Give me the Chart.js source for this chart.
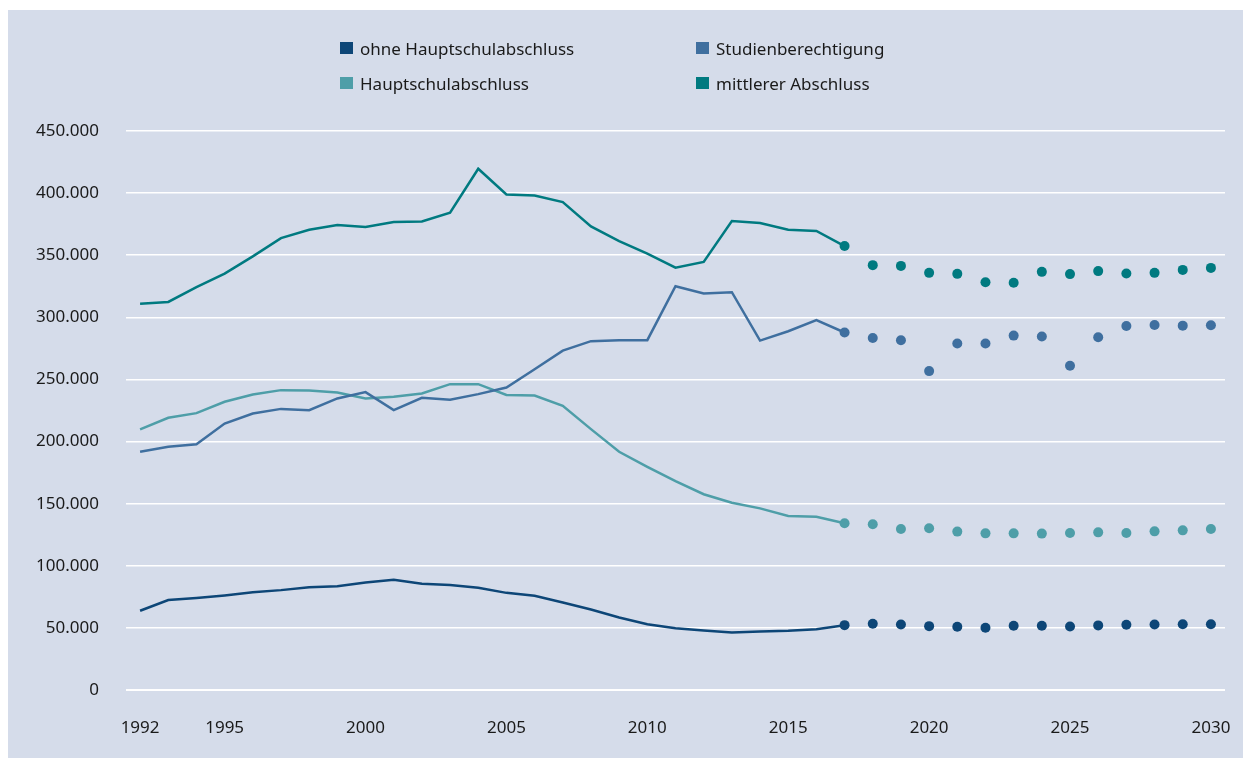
<!DOCTYPE html>
<html>
<head>
<meta charset="utf-8">
<script src="https://cdn.jsdelivr.net/npm/chart.js@4"></script>
<style>
  html, body { margin: 0; padding: 0; background: #ffffff; }
  body { width: 1243px; height: 758px; position: relative; overflow: hidden; font-family: "Noto Sans", sans-serif; }
  #panel { position: absolute; left: 8px; top: 10px; right: 0; bottom: 0; background: #d5dcea; }
  #wrap { position: absolute; left: 0; top: 0; width: 1243px; height: 758px; }
  #legend { position: absolute; left: 340px; top: 37px; display: grid; grid-template-columns: 356px 200px; row-gap: 13px; }
  .item { display: flex; align-items: center; height: 22px; font-size: 17px; color: #1a1a1a; }
  .box { width: 13px; height: 12px; margin-right: 7px; }
</style>
</head>
<body>
<div id="panel"></div>
<div id="wrap"><canvas id="chart" width="1243" height="758"></canvas></div>
<div id="legend"></div>
<script>
// Years 1992..2030; observed data up to 2017, projection afterwards (dots)
const years = [];
for (let y = 1992; y <= 2030; y++) years.push(y);
const lastObservedIndex = 25; // 2017

const xTicks = [1992, 1995, 2000, 2005, 2010, 2015, 2020, 2025, 2030];

const ohneHauptschul = [
  63800, 72400, 74000, 76100, 78600, 80400, 82800, 83600, 86600, 88700,
  85500, 84500, 82300, 78200, 75800, 70400, 64800, 58400, 53000, 49800,
  47900, 46300, 47100, 47700, 49000, 52200,
  53300, 52800, 51400, 50900, 50100, 51700, 51700, 51100, 52000, 52500, 52800, 53000, 53000
];
const hauptschul = [
  209800, 219100, 222900, 232000, 237900, 241400, 241100, 239500, 234700, 236000,
  238700, 246200, 246200, 237500, 237100, 228800, 210000, 191800, 179700, 168200,
  157600, 150800, 146200, 140100, 139500, 134200,
  133400, 129600, 130200, 127500, 126100, 126100, 125900, 126400, 126900, 126400, 127700, 128500, 129600
];
const studien = [
  191800, 195800, 197900, 214500, 222600, 226300, 225300, 234700, 239800, 225300,
  235200, 233600, 238200, 243500, 258200, 273200, 280800, 281600, 281600, 325000,
  319200, 320200, 281300, 288800, 297700, 287800,
  283400, 281500, 256700, 278900, 278900, 285300, 284500, 261000, 284000, 293000, 293800, 293300, 293600
];
const mittlerer = [
  311000, 312400, 324400, 335200, 349100, 363800, 370500, 374300, 372700, 376700,
  377200, 384200, 419600, 398900, 398100, 392800, 373200, 361400, 351300, 340000,
  344600, 377500, 375900, 370500, 369500, 357400,
  342000, 341400, 335800, 335000, 328300, 327800, 336600, 334800, 337200, 335300, 335800, 338200, 339800
];

const series = [
  { label: 'ohne Hauptschulabschluss', values: ohneHauptschul, color: '#0d4677' },
  { label: 'Studienberechtigung', values: studien, color: '#3f6f9f' },
  { label: 'Hauptschulabschluss', values: hauptschul, color: '#4e9ea8' },
  { label: 'mittlerer Abschluss', values: mittlerer, color: '#007a80' }
];

// HTML legend in two columns, like the original
const legendEl = document.getElementById('legend');
for (const s of series) {
  const item = document.createElement('div');
  item.className = 'item';
  item.innerHTML = '<span class="box" style="background:' + s.color + '"></span><span>' + s.label + '</span>';
  legendEl.appendChild(item);
}

const FONT = { family: '"Noto Sans", sans-serif', size: 17 };

new Chart(document.getElementById('chart'), {
  type: 'line',
  data: {
    datasets: series.map(s => ({
      label: s.label,
      data: years.map((y, i) => ({ x: y, y: s.values[i] })),
      borderColor: s.color,
      backgroundColor: s.color,
      borderWidth: 2.5,
      fill: false,
      tension: 0,
      pointRadius: (ctx) => ctx.dataIndex >= lastObservedIndex ? 5 : 0,
      pointHoverRadius: (ctx) => ctx.dataIndex >= lastObservedIndex ? 5 : 0,
      pointBorderWidth: 0,
      segment: {
        borderColor: (ctx) => ctx.p0DataIndex >= lastObservedIndex ? 'rgba(0,0,0,0)' : s.color
      }
    }))
  },
  options: {
    responsive: false,
    animation: false,
    layout: { padding: { left: 0, right: 18, top: 131, bottom: 18 } },
    plugins: {
      legend: { display: false },
      tooltip: { enabled: false }
    },
    scales: {
      x: {
        type: 'linear',
        min: 1991.5,
        max: 2030.5,
        afterBuildTicks: (axis) => { axis.ticks = xTicks.map(v => ({ value: v })); },
        afterFit: (axis) => { axis.height = 50; axis.paddingLeft = 0; axis.paddingRight = 0; },
        grid: { display: false, drawTicks: false },
        border: { display: false },
        ticks: {
          color: '#1a1a1a',
          font: FONT,
          padding: 28,
          maxRotation: 0,
          autoSkip: false,
          callback: (v) => String(v)
        }
      },
      y: {
        min: 0,
        max: 450000,
        afterFit: (axis) => { axis.width = 126; axis.paddingTop = 0; axis.paddingBottom = 0; },
        grid: {
          color: '#ffffff',
          lineWidth: (ctx) => ctx.tick && ctx.tick.value === 0 ? 2 : 1.5,
          drawTicks: false
        },
        border: { display: false },
        ticks: {
          stepSize: 50000,
          color: '#1a1a1a',
          font: FONT,
          padding: 27,
          callback: (v) => v === 0 ? '0' : v.toLocaleString('de-DE')
        }
      }
    }
  }
});
</script>
</body>
</html>
